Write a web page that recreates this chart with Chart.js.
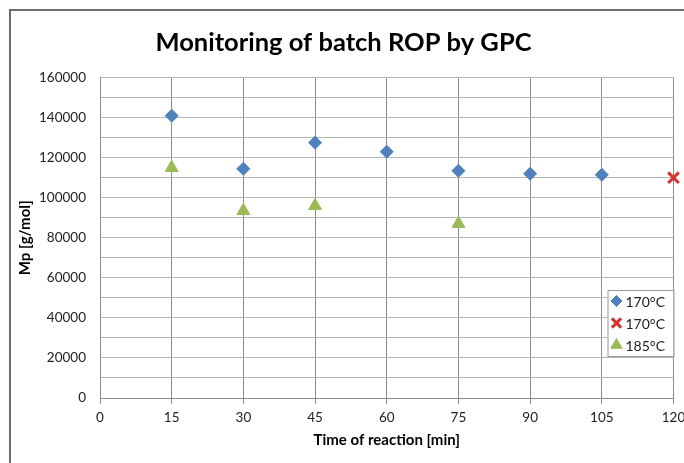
<!DOCTYPE html>
<html>
<head>
<meta charset="utf-8">
<script src="https://cdn.jsdelivr.net/npm/chart.js@4/dist/chart.umd.min.js"></script>
<style>
  html, body { margin: 0; padding: 0; background: #fff; overflow: hidden; }
  #chart { display: block; }
</style>
</head>
<body>
<canvas id="chart" width="684" height="463"></canvas>
<script>
// Mp, time in minutes
const times170 = [15, 30, 45, 60, 75, 90, 105];
const mp170 = [141000, 114500, 127500, 123000, 113500, 112000, 111500];
const times170x = [120];
const mp170x = [110000];
const times185 = [15, 30, 45, 75];
const mp185 = [115000, 93500, 96000, 87000];

const seriesLabels = ['170°C', '170°C', '185°C'];
const xTickStep = 15;
const yTickStep = 10000;
const yLabelStep = 20000;

const FONT = 'Lato, "Open Sans", sans-serif';

function toPoints(xs, ys) {
    return xs.map((x, i) => ({ x: x, y: ys[i] }));
}

// the cropped chart border, only its top and left sides show
const outerFrame = {
    id: 'outerFrame',
    beforeDraw(chart) {
        const ctx = chart.ctx;
        ctx.save();
        ctx.strokeStyle = '#6e6e6e';
        ctx.lineWidth = 2;
        ctx.beginPath();
        ctx.moveTo(10, chart.height);
        ctx.lineTo(10, 10);
        ctx.lineTo(chart.width, 10);
        ctx.stroke();
        ctx.restore();
    }
};

// small boxed legend in the lower right corner of the plot, like Excel's
const boxLegend = {
    id: 'boxLegend',
    afterDatasetsDraw(chart) {
        const ctx = chart.ctx;
        const area = chart.chartArea;
        const w = 66, h = 66;
        const x = area.right - w, y = 290;
        ctx.save();
        ctx.fillStyle = '#fff';
        ctx.fillRect(x, y, w, h);
        ctx.strokeStyle = '#9a9a9a';
        ctx.lineWidth = 1;
        ctx.strokeRect(x + 0.5, y + 0.5, w, h);
        chart.data.datasets.forEach((ds, i) => {
            const cy = y + 11 + i * 22;
            ctx.fillStyle = ds.backgroundColor;
            ctx.strokeStyle = ds.borderColor;
            ctx.lineWidth = ds.borderWidth;
            Chart.helpers.drawPoint(ctx, {
                pointStyle: ds.pointStyle,
                radius: ds.pointRadius - 1,
                borderWidth: ds.borderWidth,
                rotation: 0
            }, x + 9, cy);
            ctx.fillStyle = '#222';
            ctx.font = '14px ' + FONT;
            ctx.textBaseline = 'middle';
            ctx.textAlign = 'left';
            ctx.fillText(seriesLabels[i], x + 18, cy + 1);
        });
        ctx.restore();
    }
};

const ctx = document.getElementById('chart').getContext('2d');
new Chart(ctx, {
    type: 'scatter',
    data: {
        datasets: [
            {
                label: seriesLabels[0],
                data: toPoints(times170, mp170),
                pointStyle: 'rectRot',
                pointRadius: 6.5,
                backgroundColor: '#4f81bd',
                borderColor: '#4f81bd',
                borderWidth: 1,
                clip: false
            },
            {
                label: seriesLabels[1],
                data: toPoints(times170x, mp170x),
                pointStyle: 'crossRot',
                pointRadius: 7.5,
                backgroundColor: '#d9312b',
                borderColor: '#d9312b',
                borderWidth: 3,
                clip: false
            },
            {
                label: seriesLabels[2],
                data: toPoints(times185, mp185),
                pointStyle: 'triangle',
                pointRadius: 7.5,
                backgroundColor: '#9bbb59',
                borderColor: '#9bbb59',
                borderWidth: 1,
                clip: false
            }
        ]
    },
    options: {
        responsive: false,
        animation: false,
        devicePixelRatio: 1,
        layout: { padding: { left: 12, right: 9, top: 0, bottom: 10 } },
        plugins: {
            legend: { display: false },
            tooltip: { enabled: false },
            title: {
                display: true,
                text: 'Monitoring of batch ROP by GPC',
                color: '#000',
                font: { family: FONT, size: 25.5, weight: 'bold' },
                padding: { top: 27, bottom: 20 }
            }
        },
        scales: {
            x: {
                type: 'linear',
                min: 0,
                max: 120,
                ticks: {
                    stepSize: xTickStep,
                    color: '#222',
                    font: { family: FONT, size: 13.5 },
                    padding: 6
                },
                grid: { color: '#8c8c8c', tickLength: 6 },
                border: { color: '#8c8c8c' },
                title: {
                    display: true,
                    text: 'Time of reaction [min]',
                    color: '#000',
                    font: { family: FONT, size: 15, weight: 'bold' }
                },
                afterFit(scale) {
                    scale.height = 55;
                    // let the last label hang into the right margin
                    scale.paddingRight = 0;
                }
            },
            y: {
                min: 0,
                max: 160000,
                ticks: {
                    stepSize: yTickStep,
                    autoSkip: false,
                    color: '#222',
                    font: { family: FONT, size: 13.5 },
                    padding: 14,
                    callback: (v) => (v % yLabelStep === 0 ? v : '')
                },
                grid: { color: '#b5b5b5', drawTicks: false },
                border: { color: '#8c8c8c' },
                title: {
                    display: true,
                    text: 'Mp [g/mol]',
                    color: '#000',
                    font: { family: FONT, size: 15, weight: 'bold' }
                },
                afterFit(scale) { scale.width = 88; }
            }
        }
    },
    plugins: [outerFrame, boxLegend]
});
</script>
</body>
</html>
